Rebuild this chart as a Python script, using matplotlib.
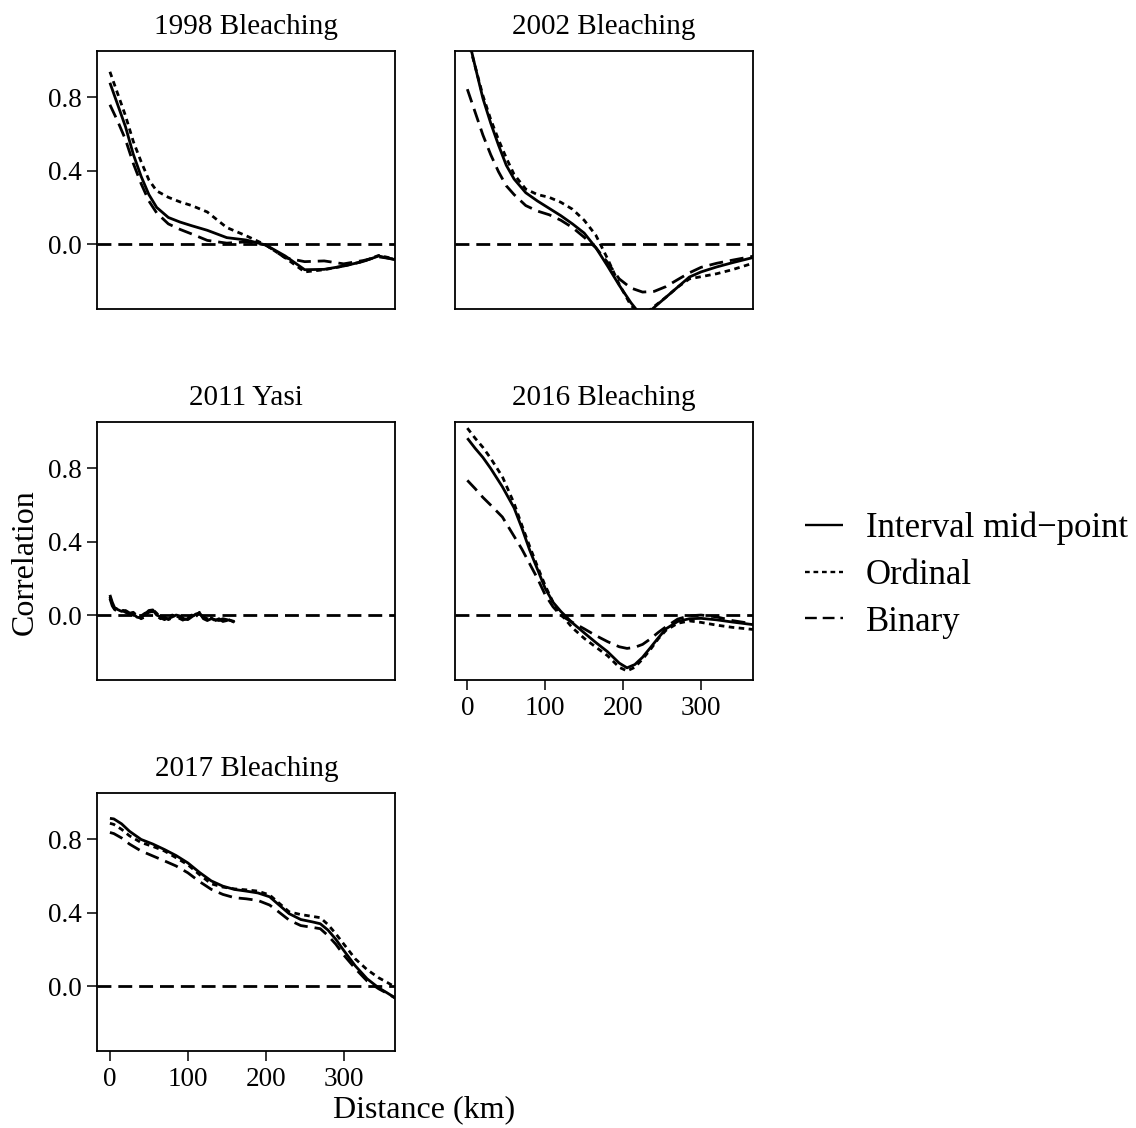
import matplotlib
matplotlib.use('Agg')
import matplotlib.pyplot as plt
from matplotlib.lines import Line2D

plt.rcParams['font.family'] = ['Liberation Serif', 'DejaVu Serif']

# correlograms of each disturbance event, three ways of coding the damage
dist_1998 = [0, 10, 20, 30, 40, 50, 60, 75, 90, 105, 125, 150, 175, 200, 225, 250, 275, 300, 325, 345, 370]
mid_1998 = [0.88, 0.76, 0.64, 0.49, 0.37, 0.27, 0.20, 0.145, 0.12, 0.10, 0.075, 0.035, 0.022, -0.005,
            -0.065, -0.14, -0.138, -0.12, -0.095, -0.065, -0.09]
ord_1998 = [0.94, 0.82, 0.70, 0.56, 0.45, 0.35, 0.29, 0.255, 0.23, 0.21, 0.175, 0.09, 0.045, -0.005,
            -0.075, -0.152, -0.14, -0.12, -0.095, -0.062, -0.085]
bin_1998 = [0.76, 0.67, 0.57, 0.44, 0.33, 0.235, 0.17, 0.11, 0.08, 0.055, 0.02, 0.005, 0.012, -0.005,
            -0.075, -0.096, -0.092, -0.108, -0.09, -0.07, -0.085]

dist_2002 = [0, 10, 20, 30, 40, 50, 60, 75, 90, 105, 120, 135, 150, 165, 180, 195, 210, 225, 240, 255,
             270, 285, 300, 320, 340, 370]
mid_2002 = [1.15, 0.97, 0.795, 0.66, 0.54, 0.43, 0.355, 0.28, 0.235, 0.195, 0.155, 0.11, 0.06, -0.02,
            -0.12, -0.225, -0.32, -0.40, -0.345, -0.29, -0.235, -0.18, -0.152, -0.125, -0.102, -0.07]
ord_2002 = [1.13, 0.97, 0.81, 0.68, 0.57, 0.47, 0.38, 0.30, 0.27, 0.255, 0.228, 0.19, 0.13, 0.048,
            -0.08, -0.22, -0.335, -0.39, -0.34, -0.29, -0.235, -0.19, -0.178, -0.162, -0.14, -0.10]
bin_2002 = [0.845, 0.72, 0.595, 0.488, 0.395, 0.318, 0.27, 0.21, 0.18, 0.16, 0.13, 0.09, 0.037, -0.02,
            -0.10, -0.19, -0.24, -0.262, -0.258, -0.232, -0.194, -0.157, -0.127, -0.105, -0.088, -0.064]

dist_2011 = [0, 3, 6, 10, 15, 20, 25, 30, 35, 40, 45, 50, 55, 60, 65, 70, 75, 80, 85, 90, 95, 100,
             105, 110, 115, 120, 125, 130, 135, 140, 145, 150, 155, 160]
mid_2011 = [0.11, 0.07, 0.04, 0.03, 0.02, 0.025, 0.012, 0.005, -0.012, -0.015, 0.005, 0.025, 0.028, 0.0,
            -0.01, -0.018, -0.02, -0.01, 0.0, -0.005, -0.02, -0.025, -0.01, 0.005, 0.012, -0.02,
            -0.03, -0.02, -0.025, -0.03, -0.02, -0.025, -0.03, -0.035]
ord_2011 = [0.10, 0.06, 0.035, 0.035, 0.025, 0.02, 0.01, 0.015, -0.005, -0.02, -0.01, 0.02, 0.03, 0.01,
            -0.015, -0.025, -0.015, 0.0, -0.01, -0.02, -0.03, -0.015, 0.0, -0.01, 0.015, -0.015,
            -0.025, -0.015, -0.03, -0.025, -0.03, -0.02, -0.03, -0.04]
bin_2011 = [0.09, 0.05, 0.03, 0.02, 0.03, 0.015, 0.005, 0.0, -0.01, -0.005, 0.01, 0.015, 0.02, -0.005,
            -0.02, -0.01, -0.025, -0.015, -0.005, -0.015, -0.025, -0.02, -0.015, 0.0, 0.005, -0.01,
            -0.02, -0.025, -0.03, -0.02, -0.035, -0.03, -0.025, -0.04]

dist_2016 = [0, 10, 20, 30, 45, 60, 70, 80, 90, 100, 110, 120, 135, 150, 165, 180, 195, 205, 215, 225,
             235, 245, 255, 270, 285, 300, 320, 340, 370]
mid_2016 = [0.965, 0.91, 0.86, 0.80, 0.70, 0.585, 0.475, 0.355, 0.25, 0.145, 0.07, 0.02, -0.043, -0.097,
            -0.15, -0.2, -0.262, -0.288, -0.27, -0.23, -0.178, -0.125, -0.075, -0.035, -0.02, -0.018,
            -0.026, -0.038, -0.054]
ord_2016 = [1.02, 0.965, 0.915, 0.855, 0.755, 0.61, 0.49, 0.375, 0.265, 0.16, 0.07, 0.005, -0.07, -0.127,
            -0.175, -0.222, -0.285, -0.305, -0.285, -0.24, -0.188, -0.13, -0.083, -0.045, -0.032, -0.04,
            -0.055, -0.067, -0.08]
bin_2016 = [0.735, 0.69, 0.642, 0.60, 0.535, 0.43, 0.36, 0.28, 0.2, 0.11, 0.045, -0.002, -0.04, -0.075,
            -0.112, -0.145, -0.173, -0.182, -0.176, -0.16, -0.13, -0.095, -0.064, -0.022, -0.004, 0.0,
            -0.01, -0.03, -0.05]

dist_2017 = [0, 5, 15, 25, 40, 55, 70, 85, 100, 115, 130, 145, 160, 175, 190, 205, 215, 230, 245, 260,
             270, 280, 290, 300, 315, 330, 345, 355, 370]
mid_2017 = [0.915, 0.912, 0.885, 0.845, 0.80, 0.775, 0.745, 0.712, 0.672, 0.62, 0.574, 0.545, 0.527,
            0.518, 0.508, 0.487, 0.45, 0.395, 0.363, 0.35, 0.34, 0.305, 0.255, 0.195, 0.11, 0.04, -0.01,
            -0.035, -0.075]
ord_2017 = [0.888, 0.882, 0.855, 0.82, 0.783, 0.762, 0.737, 0.70, 0.662, 0.608, 0.558, 0.54, 0.53,
            0.525, 0.518, 0.497, 0.46, 0.405, 0.39, 0.38, 0.373, 0.335, 0.285, 0.23, 0.148, 0.09, 0.045,
            0.022, -0.015]
bin_2017 = [0.838, 0.832, 0.808, 0.775, 0.737, 0.71, 0.683, 0.655, 0.618, 0.57, 0.528, 0.5, 0.482,
            0.476, 0.467, 0.442, 0.41, 0.36, 0.33, 0.32, 0.313, 0.275, 0.228, 0.17, 0.095, 0.028, -0.015,
            -0.038, -0.075]

titles = ['1998 Bleaching', '2002 Bleaching', '2011 Yasi', '2016 Bleaching', '2017 Bleaching']
series_names = ['Interval mid\u2212point', 'Ordinal', 'Binary']
yticks = [0.0, 0.4, 0.8]
xticks = [0, 100, 200, 300]

panels = [
    (dist_1998, mid_1998, ord_1998, bin_1998),
    (dist_2002, mid_2002, ord_2002, bin_2002),
    (dist_2011, mid_2011, ord_2011, bin_2011),
    (dist_2016, mid_2016, ord_2016, bin_2016),
    (dist_2017, mid_2017, ord_2017, bin_2017),
]

LW = 2.0
styles = [(0, ()), (0, (2.0, 1.6)), (0, (5.0, 2.5))]

W, H = 1136, 1128
fig = plt.figure(figsize=(W / 100, H / 100), dpi=100)

col_left = [97.3, 454.7]
row_top = [50.7, 421.7, 792.7]
ax_w, ax_h = 298.0, 258.6


def make_axes(row, col):
    l = col_left[col] / W
    b = 1 - (row_top[row] + ax_h) / H
    return fig.add_axes([l, b, ax_w / W, ax_h / H])


for i, (dist, mid, ordv, binv) in enumerate(panels):
    row, col = divmod(i, 2)
    ax = make_axes(row, col)
    for vals, ls in zip((mid, ordv, binv), styles):
        ax.plot(dist, vals, color='black', lw=LW, linestyle=ls)
    ax.axhline(0, color='black', lw=LW, linestyle=(0, (5.0, 2.5)))
    ax.set_xlim(-16.2, 366.3)
    ax.set_ylim(-0.356, 1.055)
    ax.set_title(titles[i], fontsize=21, pad=12)
    for sp in ax.spines.values():
        sp.set_linewidth(1.3)
    ax.tick_params(direction='out', length=7, width=1.1, labelsize=19.5, pad=4)
    if col == 0:
        ax.set_yticks(yticks)
        ax.set_yticklabels(['%.1f' % v for v in yticks])
    else:
        ax.set_yticks([])
    # distance axis only under the bottom panel of each column
    if i in (3, 4):
        ax.set_xticks(xticks)
        ax.set_xticklabels([str(v) for v in xticks])
    else:
        ax.set_xticks([])

fig.text(25 / W, 1 - 562 / H, 'Correlation', rotation=90, fontsize=23,
         ha='center', va='center')
fig.text(424.5 / W, 1 - 1110 / H, 'Distance (km)', fontsize=23, ha='center', va='center')

handles = [Line2D([], [], color='black', lw=1.7, linestyle=ls) for ls in styles]
fig.legend(handles, series_names, loc='center left', bbox_to_anchor=(805 / W, 1 - 575 / H),
           frameon=False, fontsize=25, handlelength=1.1, handletextpad=0.65,
           labelspacing=0.4, borderpad=0, borderaxespad=0)

fig.savefig('out.png', dpi=100)
